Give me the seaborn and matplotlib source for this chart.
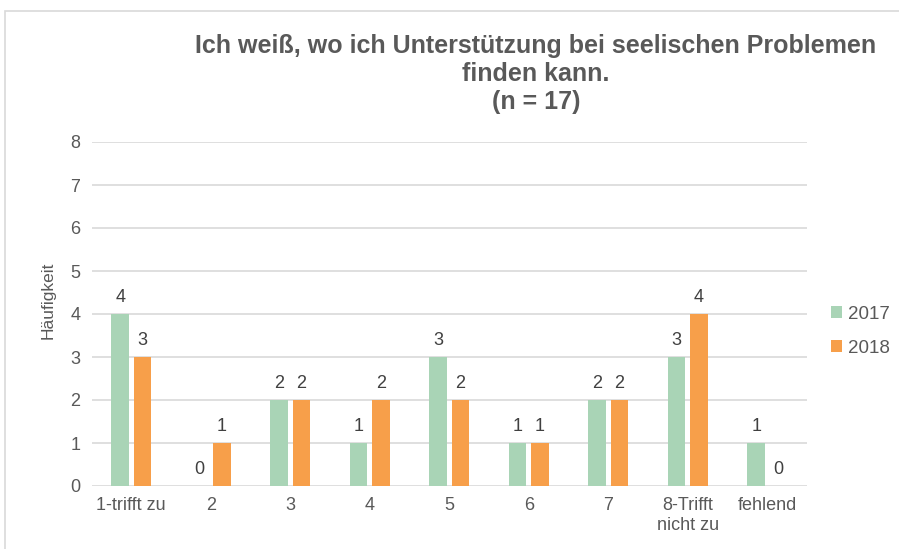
import numpy as np
import pandas as pd
import matplotlib
matplotlib.use("Agg")
import matplotlib.pyplot as plt
import seaborn as sns
from matplotlib.patches import Rectangle

categories = ["1-trifft zu", "2", "3", "4", "5", "6", "7", "8-Trifft\nnicht zu", "fehlend"]
values_2017 = [4, 0, 2, 1, 3, 1, 2, 3, 1]
values_2018 = [3, 1, 2, 2, 2, 1, 2, 4, 0]
years = ["2017", "2018"]
colors = ["#A9D4B6", "#F79F4A"]

df = pd.DataFrame({"Kategorie": categories * 2,
                   "Jahr": [years[0]] * len(categories) + [years[1]] * len(categories),
                   "Wert": values_2017 + values_2018})

sns.set_style("white")
plt.rcParams["font.family"] = ["Liberation Sans", "DejaVu Sans"]
grey = "#595959"

fig = plt.figure(figsize=(8.99, 5.49), dpi=100)
# category slots of ~79.5 px, first centre at ~131 px
ax = fig.add_axes([91.5 / 899, 1 - 486 / 549, (807 - 91.5) / 899, (486 - 142) / 549])

sns.barplot(data=df, x="Kategorie", y="Wert", hue="Jahr", palette=colors,
            width=0.556, gap=0.21, ax=ax, saturation=1, linewidth=0)

ax.set_ylim(0, 8)
ax.set_yticks(range(0, 9))
ax.yaxis.grid(True, color="#D9D9D9", linewidth=1.2)
ax.set_axisbelow(True)
for s in ax.spines.values():
    s.set_visible(False)
ax.tick_params(axis="both", length=0, labelsize=13, colors=grey, pad=8)
ax.set_xlabel("")
ax.set_ylabel("Häufigkeit", fontsize=12.5, color=grey)
ax.yaxis.set_label_coords(-0.05, 0.54)

for cont in ax.containers:
    ax.bar_label(cont, padding=6, fontsize=13, color="#404040")

leg = ax.legend(loc="center left", bbox_to_anchor=(1.01, 0.45), frameon=False,
                fontsize=13.5, handlelength=0.6, handleheight=0.6, handletextpad=0.3,
                labelspacing=0.9)
for t in leg.get_texts():
    t.set_color(grey)

fig.text(536 / 899, 1 - 34 / 549, "Ich weiß, wo ich Unterstützung bei seelischen Problemen\nfinden kann.\n(n = 17)",
         ha="center", va="top", fontsize=18, fontweight="bold", color=grey,
         linespacing=1.2)

fig.patches.append(Rectangle((5 / 899, -0.1), 1.2, 1 - 11 / 549 + 0.1, transform=fig.transFigure,
                             fill=False, edgecolor="#D9D9D9", linewidth=1.2))

fig.savefig("out.png", dpi=100)
